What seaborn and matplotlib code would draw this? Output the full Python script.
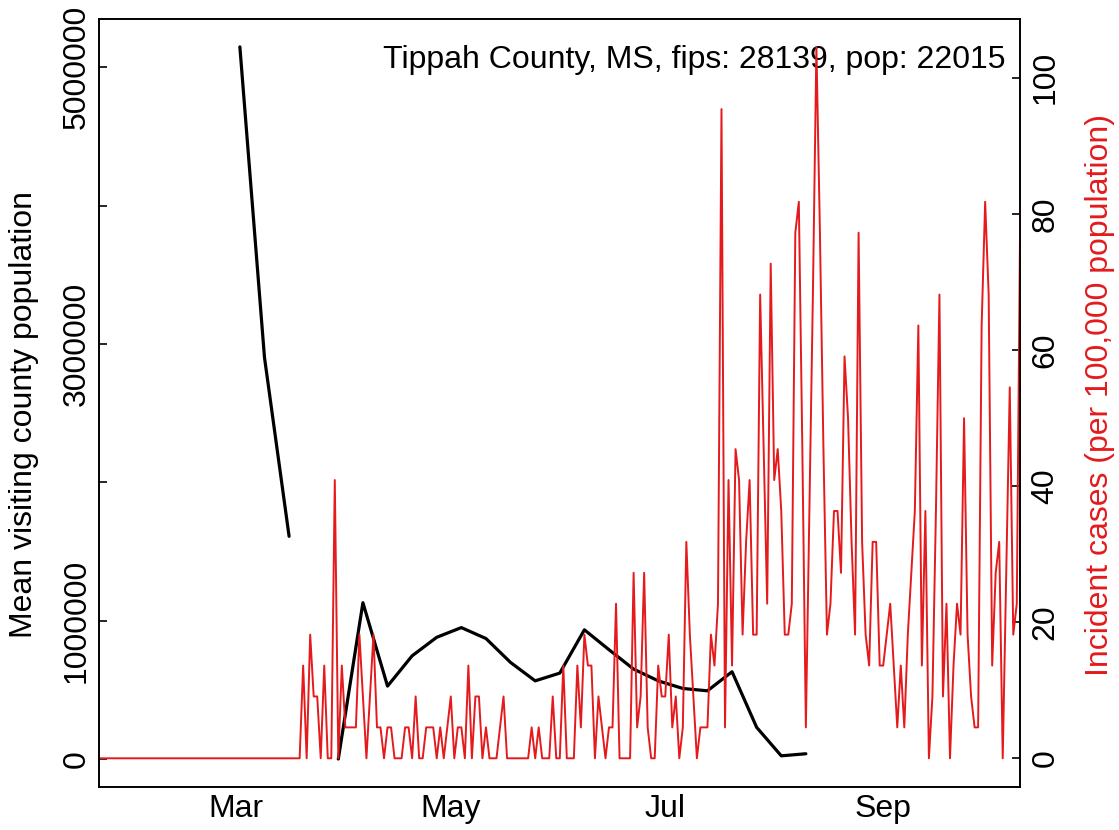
import numpy as np
import pandas as pd
import matplotlib
matplotlib.use("Agg")
import matplotlib.pyplot as plt
import matplotlib.dates as mdates
import seaborn as sns

# county info
county = "Tippah County, MS"
fips = 28139
pop = 22015

# daily new cases, 2020-01-22 .. 2020-10-10
cases_pre = [0] * 58  # Jan 22 - Mar 19
cases_mar = [3, 0, 4, 2, 2, 0, 3, 0, 0, 9, 0, 3]  # Mar 20-31
cases_apr = [1, 1, 1, 1, 4, 2, 0, 2, 4, 1, 1, 0, 1, 1, 0, 0, 0, 1, 1, 0,
             2, 0, 0, 1, 1, 1, 0, 1, 0, 1]
cases_may = [2, 0, 1, 1, 0, 3, 0, 2, 2, 0, 1, 0, 0, 0, 1, 2, 0, 0, 0, 0,
             0, 0, 0, 1, 0, 1, 0, 0, 0, 2, 0]
cases_jun = [0, 3, 0, 0, 0, 3, 1, 4, 3, 3, 0, 2, 1, 0, 1, 1, 5, 0, 0, 0,
             0, 6, 1, 2, 6, 1, 0, 0, 3, 2]
cases_jul = [2, 4, 1, 2, 0, 1, 7, 4, 2, 0, 1, 1, 1, 4, 3, 5, 21, 1, 9, 3,
             10, 9, 4, 7, 9, 4, 4, 15, 10, 5, 16]
cases_aug = [9, 10, 8, 4, 4, 5, 17, 18, 10, 1, 8, 15, 23, 17, 10, 4, 5, 8, 8, 6,
             13, 11, 7, 4, 17, 7, 4, 3, 7, 7, 3]
cases_sep = [3, 4, 5, 3, 1, 3, 1, 4, 6, 8, 14, 3, 8, 0, 2, 8, 15, 2, 5, 0,
             3, 5, 4, 11, 4, 2, 1, 1, 14, 18]
cases_oct = [15, 3, 6, 7, 0, 6, 12, 4, 5, 18]

# weekly mean visiting county population (NaN = missing week)
mob_dates = pd.date_range("2020-03-02", "2020-08-10", freq="7D")
mob_values = [5148000, 2903000, 1610000, np.nan, 0, 1130000, 527000, 746000,
              880000, 950000, 871000, 698000, 565000, 621000, 934000, 790000,
              650000, 565000, 510000, 493000, 631000, 229000, 23000, 38000]

daily_cases = (cases_pre + cases_mar + cases_apr + cases_may + cases_jun +
               cases_jul + cases_aug + cases_sep + cases_oct)
case_dates = pd.date_range("2020-01-22", periods=len(daily_cases), freq="D")
df_cases = pd.DataFrame({"date": case_dates,
                         "incidence": np.array(daily_cases) / pop * 1e5})

df_mob = pd.DataFrame({"date": mob_dates, "mob": mob_values})
df_mob["segment"] = df_mob["mob"].isna().cumsum()
df_mob = df_mob.dropna()

sns.set_style("white")
plt.rcParams["font.family"] = ["Liberation Sans", "DejaVu Sans"]
plt.rcParams["text.color"] = "black"
plt.rcParams["xtick.color"] = "black"
plt.rcParams["ytick.color"] = "black"
plt.rcParams["axes.labelcolor"] = "black"
red = "#e41a1c"
fs = 23

fig = plt.figure(figsize=(11.19, 8.30), dpi=100)
ax = fig.add_axes([0.0887, 0.0522, 0.8231, 0.9253])
sns.lineplot(data=df_mob, x="date", y="mob", units="segment", estimator=None,
             color="black", linewidth=2.3, ax=ax)
ax.set_ylim(-200000, 5352000)
ax.set_yticks([0, 1000000, 2000000, 3000000, 4000000, 5000000])
ax.set_yticklabels(["0", "1000000", "", "3000000", "", "5000000"])
ax.set_xlim(case_dates[0], case_dates[-1])
ax.xaxis.set_major_locator(mdates.MonthLocator(bymonth=[3, 5, 7, 9]))
ax.xaxis.set_major_formatter(mdates.DateFormatter("%b"))
ax.set_xlabel("")
ax.set_ylabel("")
ax.tick_params(axis="both", direction="in", length=6, width=1.2, labelsize=fs,
               colors="black")
ax.tick_params(axis="y", pad=5.5)
ax.tick_params(axis="x", pad=5.5)
for lab in ax.get_yticklabels():
    lab.set_rotation(90)
    lab.set_va("center")
    lab.set_ha("right")

ax2 = ax.twinx()
sns.lineplot(data=df_cases, x="date", y="incidence", color=red, linewidth=1.4, ax=ax2)
ax2.set_ylim(-4.17, 108.67)
ax2.set_yticks([0, 20, 40, 60, 80, 100])
ax2.set_xlim(case_dates[0], case_dates[-1])
ax2.set_ylabel("")
ax2.tick_params(axis="y", direction="in", length=6, width=1.2, labelsize=fs, pad=7.5,
                colors="black")
for lab in ax2.get_yticklabels():
    lab.set_rotation(90)
    lab.set_va("center")
    lab.set_ha("left")

for a in (ax, ax2):
    for sp in a.spines.values():
        sp.set_visible(True)
        sp.set_color("black")
        sp.set_linewidth(1.2)

ax.text(0.9834, 0.9358, f"{county}, fips: {fips}, pop: {pop}", transform=ax.transAxes,
        ha="right", va="baseline", fontsize=fs, color="black")

fig.text(24 / 1119, 1 - 415 / 830, "Mean visiting county population", rotation=90,
         ha="center", va="center", fontsize=fs, color="black")
fig.text(1100 / 1119, 1 - 395 / 830, "Incident cases (per 100,000 population)",
         rotation=90, ha="center", va="center", fontsize=fs, color=red)

fig.savefig("out.png", dpi=100)
